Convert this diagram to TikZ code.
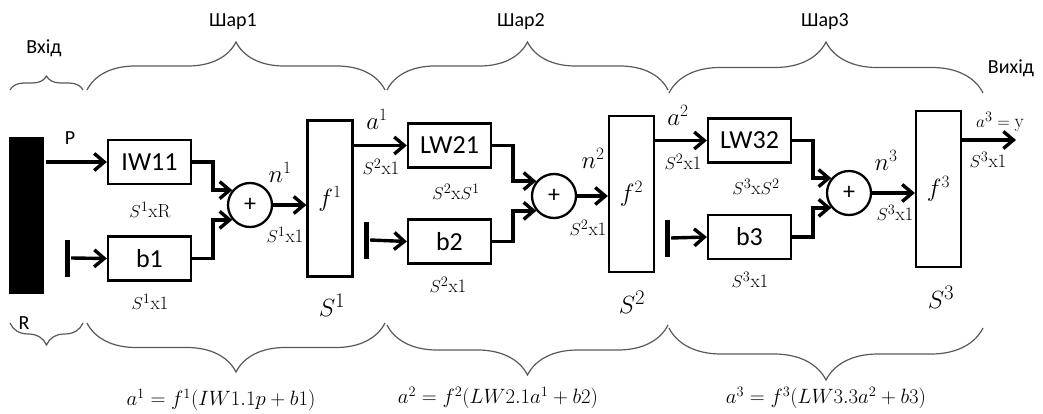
\documentclass[tikz,border=0pt]{standalone}
\usepackage{fontspec}
\newfontfamily\calib{Carlito}
\usetikzlibrary{arrows.meta,decorations.pathreplacing}
\tikzset{
  blk/.style={draw, line width=2.3pt, minimum width=83pt, minimum height=44pt, inner sep=0pt, font=\calib\fontsize{26}{28}\selectfont},
  actbox/.style={draw, line width=2.3pt, minimum width=45pt, minimum height=156pt, inner sep=0pt, font=\fontsize{25}{27}\selectfont},
  summ/.style={draw, circle, line width=2.3pt, minimum size=44pt, inner sep=0pt, font=\calib\fontsize{24}{26}\selectfont},
  bias/.style={fill=black, minimum width=5pt, minimum height=37pt, inner sep=0pt},
  dimlbl/.style={font=\fontsize{19}{21}\selectfont, inner sep=0pt},
  siglbl/.style={font=\fontsize{25}{27}\selectfont, inner sep=0pt},
  txtlbl/.style={font=\calib\fontsize{20}{22}\selectfont, inner sep=0pt},
  brc/.style={draw=black!65, line width=1.2pt, decorate, decoration={brace, amplitude=#1}},
}
\begin{document}
\begin{tikzpicture}[x=1pt, y=-1pt, >={Straight Barb[length=10pt,width=17pt]}, line width=3.4pt]
    \useasboundingbox (0,0) rectangle (1043,414);

    % Input
    \node[fill=black, minimum width=35pt, minimum height=157pt, inner sep=0pt] (inp) at (26.5,215.5) {};
    \node[txtlbl] (lblP) at (70,138) {P};
    \node[txtlbl] (lblR) at (24,323) {R};
    \node[txtlbl] (lblin) at (44,48) {Вхід};

    % Layer 1
    \node[blk] (iw) at (149.5,162) {IW11};
    \node[blk] (b1) at (149.5,258.5) {b1};
    \node[bias] (t1) at (67,258) {};
    \node[summ] (s1) at (250,205) {+};
    \node[actbox] (f1) at (330,198.5) {$f^1$};
    \draw[->] (inp.east |- iw.west) -- (iw.west);
    \draw[->] (t1.east) -- (b1.west);
    \draw[->] (iw.east) -- ++(21,0) |- (s1.140);
    \draw[->] (b1.east) -- ++(21,0) |- (s1.220);
    \draw[->] (s1.east) -- (f1.west |- s1.east);
    \node[dimlbl] (d1a) at (150,210) {$S^1$xR};
    \node[dimlbl] (d1b) at (150,302) {$S^1$x1};
    \node[siglbl] (n1) at (280,172) {$n^1$};
    \node[dimlbl] (d1c) at (285,235) {$S^1$x1};
    \node[font=\fontsize{28}{30}\selectfont] (S1) at (332,305) {$S^1$};

    % Layer 2
    \node[blk] (lw21) at (449.5,145.5) {LW21};
    \node[blk] (b2) at (449.5,241.5) {b2};
    \node[bias] (t2) at (366,240) {};
    \node[summ] (s2) at (554,196) {+};
    \node[actbox] (f2) at (631.5,194) {$f^2$};
    \draw[->] (f1.east |- lw21.west) -- (lw21.west);
    \draw[->] (t2.east) -- (b2.west);
    \draw[->] (lw21.east) -- ++(21,0) |- (s2.140);
    \draw[->] (b2.east) -- ++(21,0) |- (s2.220);
    \draw[->] (s2.east) -- (f2.west |- s2.east);
    \node[siglbl] (a1) at (377,119) {$a^1$};
    \node[dimlbl] (d2a) at (381,167) {$S^2$x1};
    \node[dimlbl] (d2b) at (456,192) {$S^2$x$S^1$};
    \node[dimlbl] (d2c) at (448,285) {$S^2$x1};
    \node[siglbl] (n2) at (593,158) {$n^2$};
    \node[dimlbl] (d2d) at (588,228) {$S^2$x1};
    \node[font=\fontsize{28}{30}\selectfont] (S2) at (632,302) {$S^2$};

    % Layer 3
    \node[blk] (lw32) at (749.5,140.5) {LW32};
    \node[blk] (b3) at (749.5,237) {b3};
    \node[bias] (t3) at (667,238) {};
    \node[summ] (s3) at (849,193) {+};
    \node[actbox] (f3) at (938.5,189) {$f^3$};
    \coordinate (out) at (1016,140);
    \draw[->] (f2.east |- lw32.west) -- (lw32.west);
    \draw[->] (t3.east) -- (b3.west);
    \draw[->] (lw32.east) -- ++(21,0) |- (s3.140);
    \draw[->] (b3.east) -- ++(21,0) |- (s3.220);
    \draw[->] (s3.east) -- (f3.west |- s3.east);
    \draw[->] (f3.east |- out) -- (out);
    \node[siglbl] (a2) at (678,115) {$a^2$};
    \node[dimlbl] (d3a) at (683,162) {$S^2$x1};
    \node[dimlbl] (d3b) at (756,187) {$S^3$x$S^2$};
    \node[dimlbl] (d3c) at (750,280) {$S^3$x1};
    \node[siglbl] (n3) at (886,160) {$n^3$};
    \node[dimlbl] (d3d) at (895,213) {$S^3$x1};
    \node[font=\fontsize{28}{30}\selectfont] (S3) at (941,297) {$S^3$};
    \node[dimlbl] (a3) at (1000,122) {$a^3=\mathrm{y}$};
    \node[dimlbl] (d3e) at (988,160) {$S^3$x1};
    \node[txtlbl] (lblout) at (1011,68) {Вихід};

    % Braces on top
    \draw[brc=14pt] (10,90) -- (83,90);
    \draw[brc=48pt] (87,90) -- (385,90);
    \draw[brc=48pt] (387,90) -- (668,90);
    \draw[brc=51pt] (669,93) -- (983,93);
    \node[txtlbl] (L1) at (233,22) {Шар1};
    \node[txtlbl] (L2) at (521,22) {Шар2};
    \node[txtlbl] (L3) at (825,22) {Шар3};

    % Braces below
    \draw[brc=22pt] (83,323) -- (10,323);
    \draw[brc=49pt] (385,323) -- (87,323);
    \draw[brc=50pt] (668,325) -- (387,325);
    \draw[brc=52pt] (983,328) -- (669,328);
    \node[dimlbl, font=\fontsize{20}{22}\selectfont] (eq1) at (221,400) {$a^1=f^1(IW1.1p+b1)$};
    \node[dimlbl, font=\fontsize{20}{22}\selectfont] (eq2) at (498,398) {$a^2=f^2(LW2.1a^1+b2)$};
    \node[dimlbl, font=\fontsize{20}{22}\selectfont] (eq3) at (826,398) {$a^3=f^3(LW3.3a^2+b3)$};
\end{tikzpicture}
\end{document}
